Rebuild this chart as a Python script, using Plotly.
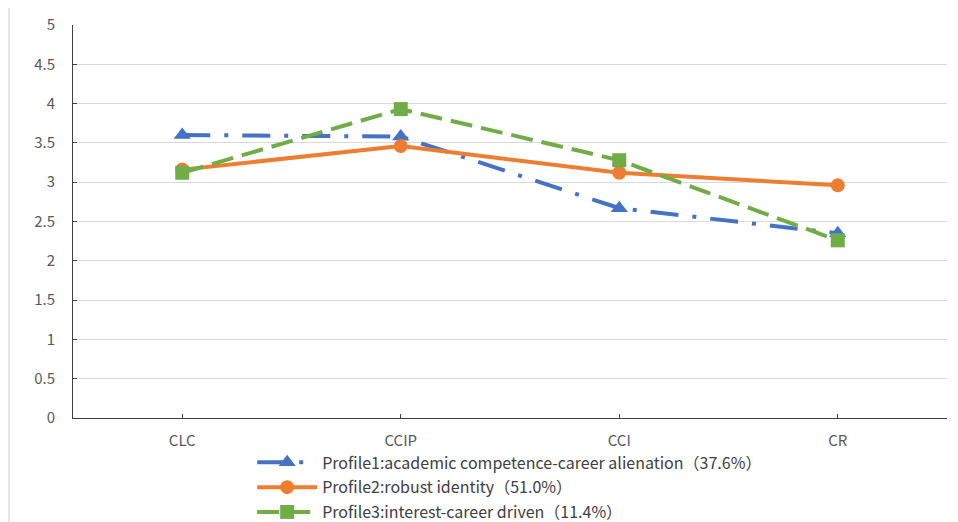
import plotly.graph_objects as go

categories = ["CLC", "CCIP", "CCI", "CR"]
profile1 = [3.60, 3.58, 2.67, 2.35]
profile2 = [3.16, 3.46, 3.12, 2.96]
profile3 = [3.12, 3.93, 3.28, 2.26]
names = [
    "Profile1:academic competence-career alienation（37.6%）",
    "Profile2:robust identity（51.0%）",
    "Profile3:interest-career driven（11.4%）",
]
y_ticks = [0, 0.5, 1, 1.5, 2, 2.5, 3, 3.5, 4, 4.5, 5]
y_tick_text = ["0", "0.5", "1", "1.5", "2", "2.5", "3", "3.5", "4", "4.5", "5"]

FONT = "Noto Sans CJK SC, Noto Sans, sans-serif"

fig = go.Figure()
fig.add_trace(go.Scatter(
    x=categories, y=profile1, name=names[0], mode="lines+markers", legendgroup="p1",
    line=dict(color="#4472C4", width=4, dash="28px,14px,4px,14px"),
    marker=dict(symbol="triangle-up", size=15, color="#4472C4"),
))
fig.add_trace(go.Scatter(
    x=categories, y=profile2, name=names[1], mode="lines+markers", legendgroup="p2",
    line=dict(color="#ED7D31", width=4),
    marker=dict(symbol="circle", size=14, color="#ED7D31"),
))
fig.add_trace(go.Scatter(
    x=categories, y=profile3, name=names[2], mode="lines+markers", legendgroup="p3",
    line=dict(color="#70AD47", width=4, dash="22px,9px"),
    marker=dict(symbol="square", size=14, color="#70AD47"),
))

fig.update_layout(
    width=950, height=514,
    margin=dict(l=65, r=11, t=17, b=104, autoexpand=False),
    paper_bgcolor="white", plot_bgcolor="white",
    font=dict(family=FONT, size=15, color="#595959"),
    xaxis=dict(
        type="category", range=[-0.5, 3.5],
        showgrid=False, showline=True, linecolor="#404040", linewidth=1,
        ticks="inside", ticklen=4, tickcolor="#404040",
        tickfont=dict(size=15, color="#595959"),
        ticklabelstandoff=9,
        fixedrange=True,
    ),
    yaxis=dict(
        range=[0, 5], tickvals=y_ticks, ticktext=y_tick_text,
        showgrid=True, gridcolor="#D9D9D9", gridwidth=1,
        showline=True, linecolor="#404040", linewidth=1,
        ticks="inside", ticklen=4, tickcolor="#404040",
        zeroline=False, tickfont=dict(size=15, color="#595959"),
        ticklabelstandoff=14,
    ),
    legend=dict(
        orientation="v", x=0.205, xanchor="left", y=-0.0698, yanchor="top",
        font=dict(family=FONT, size=16, color="#404040"),
        bgcolor="rgba(0,0,0,0)", itemwidth=60, tracegroupgap=1,
    ),
    shapes=[dict(type="line", xref="paper", yref="paper",
                 x0=-0.0732, x1=-0.0732, y0=-0.27, y1=1.05,
                 line=dict(color="#E6E6E6", width=2))],
)

fig.write_html("out.html")
